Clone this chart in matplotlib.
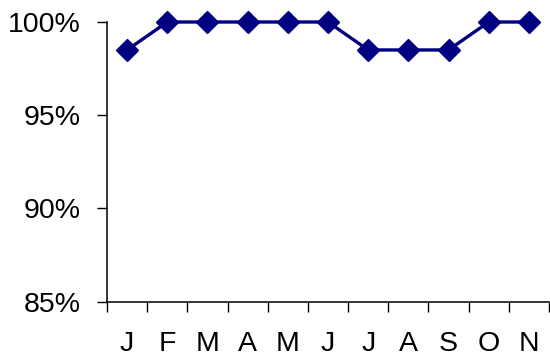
import numpy as np
import matplotlib.pyplot as plt
from matplotlib.ticker import FixedLocator, PercentFormatter

plt.rcParams['font.family'] = ['Liberation Sans', 'DejaVu Sans']

months = ['J', 'F', 'M', 'A', 'M', 'J', 'J', 'A', 'S', 'O', 'N']
rate = [98.5, 100, 100, 100, 100, 100, 98.5, 98.5, 98.5, 100, 100]

fig = plt.figure(figsize=(5.5, 3.59), dpi=100)
ax = fig.add_axes([107 / 550, 1 - 301.5 / 359, 442 / 550, 279.5 / 359])

x = np.arange(len(months))
ax.plot(x, rate, color='#000080', lw=2.4, marker='D', ms=11.5, clip_on=False)

ax.set_xlim(-0.5, len(months) - 0.5)
ax.set_ylim(85, 100)
ax.set_yticks([85, 90, 95, 100])
ax.yaxis.set_major_formatter(PercentFormatter(decimals=0))

ax.set_xticks(x)
ax.set_xticklabels(months)
ax.xaxis.set_minor_locator(FixedLocator(np.arange(-0.5, len(months), 1.0)))

ax.tick_params(axis='x', which='major', length=0, pad=21, labelsize=20.5)
ax.tick_params(axis='x', which='minor', length=7.5, width=1, direction='out')
ax.tick_params(axis='y', length=7.5, width=1, pad=11.5, labelsize=20.5)

for side in ['top', 'right']:
    ax.spines[side].set_visible(False)
for side in ['left', 'bottom']:
    ax.spines[side].set_linewidth(1.1)

fig.savefig('out.png', dpi=100)
